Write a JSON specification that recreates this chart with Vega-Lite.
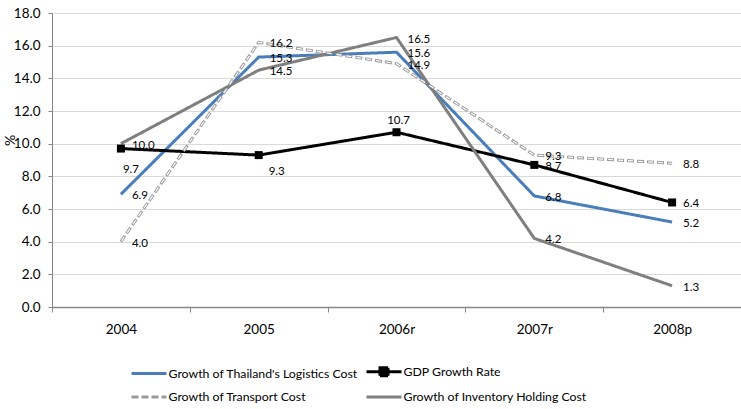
{
  "$schema": "https://vega.github.io/schema/vega-lite/v6.json",
  "width": 689,
  "height": 294,
  "autosize": "none",
  "padding": {"left": 52, "top": 13, "right": 0, "bottom": 102},
  "background": "white",
  "config": {
    "font": "Lato",
    "view": {"stroke": null},
    "axis": {"labelFont": "Lato", "labelFontSize": 13.5, "labelColor": "#000000", "titleFont": "Lato"}
  },
  "data": {
    "values": [
      {"year": "2004", "series": "Growth of Thailand's Logistics Cost", "value": 6.9},
      {"year": "2005", "series": "Growth of Thailand's Logistics Cost", "value": 15.3},
      {"year": "2006r", "series": "Growth of Thailand's Logistics Cost", "value": 15.6},
      {"year": "2007r", "series": "Growth of Thailand's Logistics Cost", "value": 6.8},
      {"year": "2008p", "series": "Growth of Thailand's Logistics Cost", "value": 5.2},
      {"year": "2004", "series": "GDP Growth Rate", "value": 9.7},
      {"year": "2005", "series": "GDP Growth Rate", "value": 9.3},
      {"year": "2006r", "series": "GDP Growth Rate", "value": 10.7},
      {"year": "2007r", "series": "GDP Growth Rate", "value": 8.7},
      {"year": "2008p", "series": "GDP Growth Rate", "value": 6.4},
      {"year": "2004", "series": "Growth of Transport Cost", "value": 4.0},
      {"year": "2005", "series": "Growth of Transport Cost", "value": 16.2},
      {"year": "2006r", "series": "Growth of Transport Cost", "value": 14.9},
      {"year": "2007r", "series": "Growth of Transport Cost", "value": 9.3},
      {"year": "2008p", "series": "Growth of Transport Cost", "value": 8.8},
      {"year": "2004", "series": "Growth of Inventory Holding Cost", "value": 10.0},
      {"year": "2005", "series": "Growth of Inventory Holding Cost", "value": 14.5},
      {"year": "2006r", "series": "Growth of Inventory Holding Cost", "value": 16.5},
      {"year": "2007r", "series": "Growth of Inventory Holding Cost", "value": 4.2},
      {"year": "2008p", "series": "Growth of Inventory Holding Cost", "value": 1.3}
    ]
  },
  "encoding": {
    "x": {
      "field": "year", "type": "nominal", "sort": null,
      "scale": {"type": "band", "paddingInner": 0, "paddingOuter": 0},
      "axis": {"title": null, "labelAngle": 0, "tickBand": "extent", "tickSize": 5, "tickColor": "#888888", "domainColor": "#888888", "domainWidth": 1.5, "labelPadding": 10, "grid": false}
    },
    "y": {
      "field": "value", "type": "quantitative",
      "scale": {"domain": [0, 18], "nice": false},
      "axis": {"title": "%", "titleFontSize": 14, "titleFontWeight": "normal", "titleColor": "#000000", "titleX": -35, "titleY": 127, "titleAlign": "center", "values": [0, 2, 4, 6, 8, 10, 12, 14, 16, 18], "format": ".1f", "tickSize": 4, "tickColor": "#888888", "domainColor": "#888888", "labelPadding": 8, "grid": true, "gridColor": "#d9d9d9", "gridWidth": 1.2}
    }
  },
  "layer": [
    {
      "mark": {"type": "line", "strokeWidth": 3},
      "encoding": {
        "color": {
          "field": "series", "type": "nominal",
          "scale": {
            "domain": ["Growth of Thailand's Logistics Cost", "GDP Growth Rate", "Growth of Transport Cost", "Growth of Inventory Holding Cost"],
            "range": ["#4a7ebb", "#000000", "#9a9a9a", "#7f7f7f"]
          },
          "legend": {
            "title": null,
            "orient": "none",
            "legendX": 85.5,
            "legendY": 347,
            "direction": "horizontal",
            "columns": 2,
            "padding": 0,
            "columnPadding": 2,
            "rowPadding": 3.5,
            "symbolType": "M-1.75,0H1.75",
            "symbolSize": 400,
            "symbolStrokeWidth": 3,
            "labelFont": "Lato",
            "labelFontSize": 12.3,
            "labelLimit": 400,
            "labelColor": "#000000",
            "labelOffset": 8,
            "encode": {
              "symbols": {
                "update": {
                  "shape": [
                    {"test": "datum.value === 'GDP Growth Rate'", "value": "M-1.75,0H1.75M-0.4,-0.4H0.4V0.4H-0.4Z"},
                    {"value": "M-1.75,0H1.75"}
                  ],
                  "fill": [
                    {"test": "datum.value === 'GDP Growth Rate'", "value": "#000000"},
                    {"value": "transparent"}
                  ],
                  "strokeDash": [
                    {"test": "datum.value === 'Growth of Transport Cost'", "value": [7, 3]},
                    {"value": []}
                  ]
                }
              }
            }
          }
        },
        "strokeDash": {
          "field": "series", "type": "nominal",
          "scale": {
            "domain": ["Growth of Thailand's Logistics Cost", "GDP Growth Rate", "Growth of Transport Cost", "Growth of Inventory Holding Cost"],
            "range": [[1, 0], [1, 0], [7, 3], [1, 0]]
          },
          "legend": null
        }
      }
    },
    {
      "transform": [{"filter": "datum.series === 'Growth of Transport Cost'"}],
      "mark": {"type": "line", "strokeWidth": 1.2, "color": "#ffffff", "strokeDash": [5, 5], "strokeDashOffset": -1},
      "encoding": {}
    },
    {
      "transform": [{"filter": "datum.series === 'GDP Growth Rate'"}],
      "mark": {"type": "point", "shape": "square", "filled": true, "opacity": 1, "size": 64, "color": "#000000"},
      "encoding": {}
    },
    {
      "transform": [{"filter": "datum.series !== 'GDP Growth Rate' || datum.year === '2007r' || datum.year === '2008p'"}],
      "mark": {"type": "text", "align": "left", "baseline": "middle", "dx": 11, "dy": 2, "fontSize": 11.5, "font": "Lato", "color": "#000000"},
      "encoding": {"text": {"field": "value", "type": "quantitative", "format": ".1f"}}
    },
    {
      "transform": [{"filter": "datum.series === 'GDP Growth Rate' && datum.year === '2004'"}],
      "mark": {"type": "text", "align": "left", "baseline": "middle", "dx": 2, "dy": 21, "fontSize": 11.5, "font": "Lato", "color": "#000000"},
      "encoding": {"text": {"field": "value", "type": "quantitative", "format": ".1f"}}
    },
    {
      "transform": [{"filter": "datum.series === 'GDP Growth Rate' && datum.year === '2005'"}],
      "mark": {"type": "text", "align": "left", "baseline": "middle", "dx": 10, "dy": 17, "fontSize": 11.5, "font": "Lato", "color": "#000000"},
      "encoding": {"text": {"field": "value", "type": "quantitative", "format": ".1f"}}
    },
    {
      "transform": [{"filter": "datum.series === 'GDP Growth Rate' && datum.year === '2006r'"}],
      "mark": {"type": "text", "align": "center", "baseline": "middle", "dx": 2, "dy": -11, "fontSize": 11.5, "font": "Lato", "color": "#000000"},
      "encoding": {"text": {"field": "value", "type": "quantitative", "format": ".1f"}}
    }
  ]
}
